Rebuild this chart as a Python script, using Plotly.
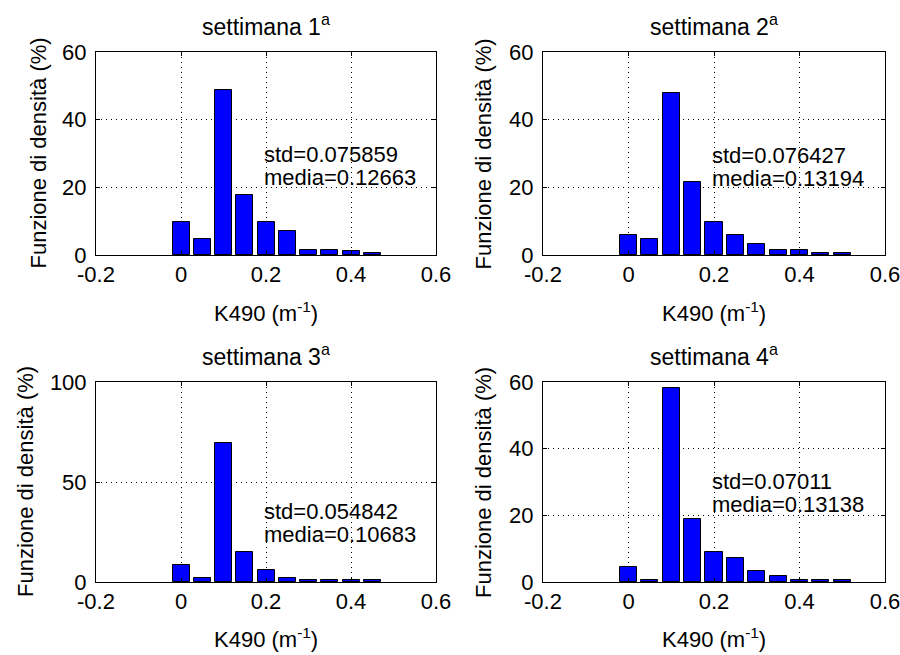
import plotly.graph_objects as go
from plotly.subplots import make_subplots

# ---- data ----
titles = ["settimana 1<sup>a</sup>", "settimana 2<sup>a</sup>",
          "settimana 3<sup>a</sup>", "settimana 4<sup>a</sup>"]
centers_1 = [0.0, 0.05, 0.10, 0.15, 0.20, 0.25, 0.30, 0.35, 0.40, 0.45]
dens_1 = [9.9, 4.8, 48.9, 17.8, 9.9, 7.0, 1.6, 1.6, 1.1, 0.6]
centers_2 = [0.0, 0.05, 0.10, 0.15, 0.20, 0.25, 0.30, 0.35, 0.40, 0.45, 0.50]
dens_2 = [5.9, 4.7, 48.0, 21.6, 9.8, 5.9, 3.2, 1.6, 1.6, 0.5, 0.5]
centers_3 = [0.0, 0.05, 0.10, 0.15, 0.20, 0.25, 0.30, 0.35, 0.40, 0.45]
dens_3 = [8.5, 2.0, 69.5, 14.8, 5.8, 2.0, 0.8, 0.8, 0.9, 0.8]
centers_4 = [0.0, 0.05, 0.10, 0.15, 0.20, 0.25, 0.30, 0.35, 0.40, 0.45, 0.50]
dens_4 = [4.5, 0.6, 58.2, 18.8, 8.9, 7.2, 3.2, 1.7, 0.6, 0.6, 0.5]
std_vals = ["0.075859", "0.076427", "0.054842", "0.07011"]
mean_vals = ["0.12663", "0.13194", "0.10683", "0.13138"]
y_max = [60, 60, 100, 60]
y_dtick = [20, 20, 50, 20]
text_y = [26.5, 26.3, 29.8, 26.9]
x_tickvals = [-0.2, 0, 0.2, 0.4, 0.6]
x_ticktext = ["-0.2", "0", "0.2", "0.4", "0.6"]
x_label = "K490 (m<sup>-1</sup>)"
y_label = "Funzione di densità (%)"

centers = [centers_1, centers_2, centers_3, centers_4]
dens = [dens_1, dens_2, dens_3, dens_4]

FONT = "Liberation Sans, Arial, sans-serif"
FS = 22
W, H = 900, 655

# axes boxes in pixels (left, right, top, bottom)
boxes = [(96, 436, 52, 255), (543, 885, 52, 255),
         (96, 436, 382, 582), (543, 885, 382, 582)]
title_y = [25, 25, 355, 355]
xlabel_y = [312, 312, 638, 638]
ylabel_x = [38, 483, 25, 483]

fig = make_subplots(rows=2, cols=2)
annotations = []
for i in range(4):
    r, c = i // 2 + 1, i % 2 + 1
    fig.add_trace(go.Bar(x=centers[i], y=dens[i], width=0.04,
                         marker=dict(color="#0000FF",
                                     line=dict(color="black", width=1)),
                         showlegend=False), row=r, col=c)
    L, R, T, B = boxes[i]
    xd = [L / W, R / W]
    yd = [1 - B / H, 1 - T / H]
    sfx = "" if i == 0 else str(i + 1)
    fig.layout["xaxis" + sfx].update(
        domain=xd, range=[-0.2, 0.6], tickvals=x_tickvals, ticktext=x_ticktext,
        showline=True, linecolor="black", linewidth=1, mirror="ticks",
        ticks="inside", ticklen=4, tickcolor="black", automargin=False,
        showgrid=True, gridcolor="black", griddash="1px,4px", gridwidth=1,
        zeroline=False, ticklabelstandoff=0, ticklabeloverflow="allow",
        tickfont=dict(family=FONT, size=FS, color="black"))
    fig.layout["yaxis" + sfx].update(
        domain=yd, range=[0, y_max[i]], dtick=y_dtick[i],
        showline=True, linecolor="black", linewidth=1, mirror="ticks",
        ticks="inside", ticklen=4, tickcolor="black", automargin=False,
        showgrid=True, gridcolor="black", griddash="1px,4px", gridwidth=1,
        zeroline=False, ticklabelstandoff=4, ticklabeloverflow="allow",
        tickfont=dict(family=FONT, size=FS, color="black"))
    # title
    annotations.append(dict(text=titles[i], x=(L + R) / 2 / W, y=1 - title_y[i] / H,
                            xref="paper", yref="paper", showarrow=False,
                            xanchor="center", yanchor="middle",
                            font=dict(family=FONT, size=FS + 1, color="black")))
    annotations.append(dict(text=x_label, x=(L + R) / 2 / W, y=1 - xlabel_y[i] / H,
                            xref="paper", yref="paper", showarrow=False,
                            xanchor="center", yanchor="middle",
                            font=dict(family=FONT, size=FS, color="black")))
    annotations.append(dict(text=y_label, x=ylabel_x[i] / W, y=1 - (T + B) / 2 / H,
                            xref="paper", yref="paper", showarrow=False, textangle=-90,
                            xanchor="center", yanchor="middle",
                            font=dict(family=FONT, size=FS, color="black")))
    for txt, sh in (("std=" + std_vals[i], 11), ("media=" + mean_vals[i], -12)):
        annotations.append(dict(text=txt, x=0.2, y=text_y[i],
                                xref="x" + sfx, yref="y" + sfx, showarrow=False,
                                xanchor="left", yanchor="middle", yshift=sh, xshift=-4,
                                font=dict(family=FONT, size=FS, color="black")))

fig.update_layout(width=W, height=H, margin=dict(l=0, r=0, t=0, b=0, pad=0),
                  paper_bgcolor="white", plot_bgcolor="white",
                  annotations=annotations, bargap=0)
fig.write_html("out.html")
